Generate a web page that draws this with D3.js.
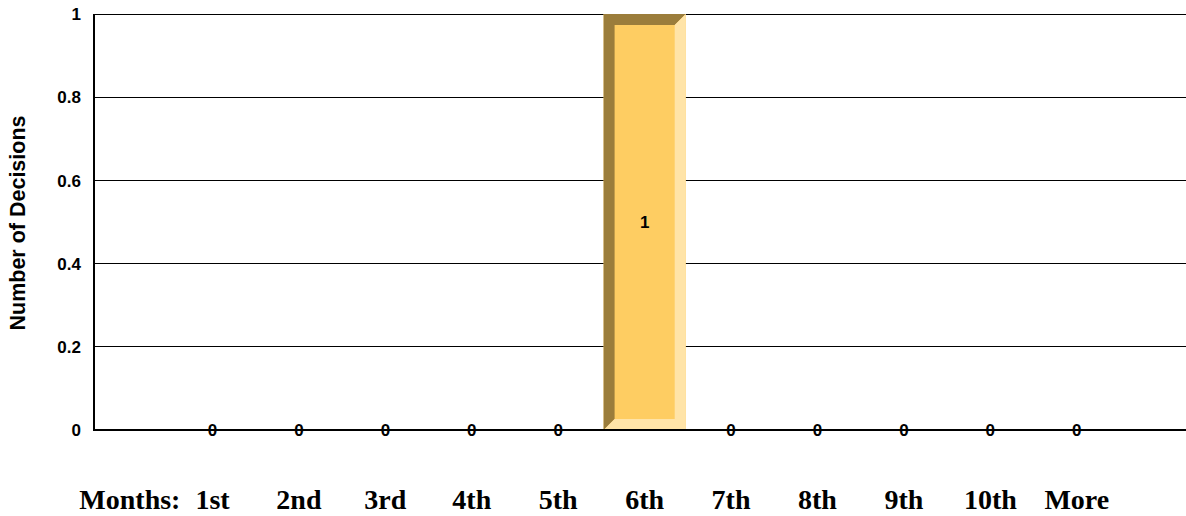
<!DOCTYPE html>
<html><head><meta charset="utf-8">
<script src="https://cdn.jsdelivr.net/npm/d3@7"></script>
<style>html,body{margin:0;padding:0;background:#fff;}svg{display:block;}</style>
</head><body>
<svg id="chart" width="1186" height="516"></svg>
<script>
const categories = ["1st","2nd","3rd","4th","5th","6th","7th","8th","9th","10th","More"];
const values = [0,0,0,0,0,1,0,0,0,0,0];
const yTicks = [0,0.2,0.4,0.6,0.8,1];
const yTickLabels = ["0","0.2","0.4","0.6","0.8","1"];
const xLeadLabel = "Months:";
const yTitle = "Number of Decisions";

const svg = d3.select("#chart");
const plotLeft = 94, plotRight = 1186, plotTop = 14, plotBottom = 430;
const x = d3.scaleBand().domain(categories).range([169.3, 1120]).paddingInner(0.05).paddingOuter(0.025);
const y = d3.scaleLinear().domain([0,1]).range([plotBottom, plotTop]);

// gridlines
svg.append("g").selectAll("line").data(yTicks.filter(d=>d>0)).join("line")
  .attr("x1", plotLeft).attr("x2", plotRight)
  .attr("y1", d=>y(d)).attr("y2", d=>y(d))
  .attr("stroke","#000").attr("stroke-width",1).attr("shape-rendering","crispEdges");

// bars with bevel
const bev = 11;
const dark = "#9B7D3B", mid = "#FECD62", light = "#FFE4A8";
const bars = svg.append("g").selectAll("g").data(categories.map((c,i)=>({c, v: values[i]})).filter(d=>d.v>0)).join("g");
bars.each(function(d){
  const g = d3.select(this);
  const x0 = x(d.c), x1 = x(d.c)+x.bandwidth(), y0 = y(d.v), y1 = y(0);
  g.append("rect").attr("x",x0).attr("y",y0).attr("width",x1-x0).attr("height",y1-y0).attr("fill",mid);
  g.append("polygon").attr("points",[[x0,y1],[x0,y0],[x1,y0],[x1-bev,y0+bev],[x0+bev,y0+bev],[x0+bev,y1-bev]].join(" ")).attr("fill",dark);
  g.append("polygon").attr("points",[[x1,y0],[x1,y1],[x0,y1],[x0+bev,y1-bev],[x1-bev,y1-bev],[x1-bev,y0+bev]].join(" ")).attr("fill",light);
});

// y axis line
svg.append("line").attr("x1",plotLeft).attr("x2",plotLeft).attr("y1",plotTop).attr("y2",plotBottom+1)
  .attr("stroke","#000").attr("stroke-width",2);

// y tick labels
svg.append("g").selectAll("text").data(yTicks).join("text")
  .attr("x", plotLeft-13).attr("y", d=>y(d)).attr("dy","0.36em")
  .attr("text-anchor","end").attr("font-family","Liberation Sans, Arial, sans-serif")
  .attr("font-weight","bold").attr("font-size",17)
  .text((d,i)=>yTickLabels[i]);

// y title
svg.append("text").attr("transform",`translate(25,${(plotTop+plotBottom)/2 + 1}) rotate(-90)`)
  .attr("text-anchor","middle").attr("font-family","Liberation Sans, Arial, sans-serif")
  .attr("font-weight","bold").attr("font-size",21.5).text(yTitle);

// data labels
svg.append("g").selectAll("text").data(categories.map((c,i)=>({c, v: values[i]}))).join("text")
  .attr("x", d=>x(d.c)+x.bandwidth()/2)
  .attr("y", d=> d.v>0 ? y(d.v/2) : y(0))
  .attr("dy","0.36em").attr("text-anchor","middle")
  .attr("font-family","Liberation Sans, Arial, sans-serif").attr("font-weight","bold").attr("font-size",17)
  .text(d=>d.v);

// x axis line over the zero labels
svg.append("line").attr("x1",plotLeft).attr("x2",plotRight).attr("y1",plotBottom).attr("y2",plotBottom)
  .attr("stroke","#000").attr("stroke-width",2);

// x category labels
const xl = svg.append("g").attr("font-family","Liberation Serif, Times New Roman, serif").attr("font-weight","bold").attr("font-size",28);
xl.selectAll("text").data(categories).join("text")
  .attr("x", d=>x(d)+x.bandwidth()/2).attr("y",509).attr("text-anchor","middle").text(d=>d);
xl.append("text").attr("x", x(categories[0]) + 9).attr("y",509).attr("text-anchor","end").text(xLeadLabel);
</script>
</body></html>
